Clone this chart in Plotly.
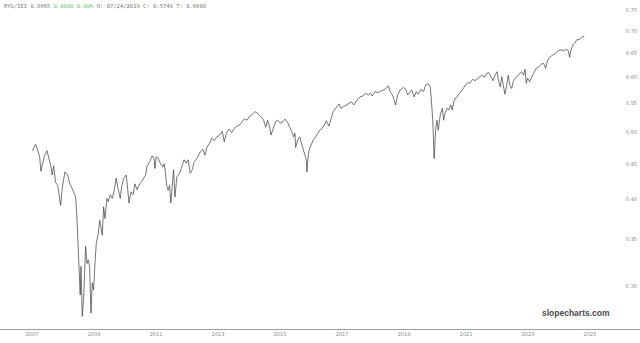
import plotly.graph_objects as go

# ---- data ----
dates = (
    ["2007-" + d for d in ["01-05","02-14","03-16","04-01","04-16","05-01","05-25","06-26","07-19","08-12","08-27","09-13","10-06","10-30","11-14","12-04","12-23"]]
    + ["2008-" + d for d in ["01-24","02-25","03-19","04-12","05-05","05-29","06-10","06-29","07-15","07-22","07-31","08-15","09-01","09-24","10-10","10-25","11-10","11-26","12-11","12-27"]]
    + ["2009-" + d for d in ["01-12","01-27","02-20","03-08","03-23","04-08","04-24","05-10","06-02","06-17","07-11","08-03","08-27","09-19","10-06","11-06","11-22","12-16"]]
    + ["2010-" + d for d in ["01-16","02-01","02-17","03-12","04-05","04-28","05-22","06-23","07-16","08-08","09-01","09-16","10-18","11-17","12-10","12-19"]]
    + ["2011-" + d for d in ["01-04","01-27","02-20","03-23","04-07","04-23","05-09","05-24","06-10","06-25","07-11","07-27","08-12","09-04","10-06","11-05","11-29","12-22"]]
    + ["2012-" + d for d in ["01-15","02-08","03-03","03-26","04-27","06-05","07-07","07-30","08-23","09-24","10-18","11-17","12-19"]]
    + ["2013-" + d for d in ["01-20","02-20","03-15","04-08","05-10","06-10","07-11","08-12","09-13","10-13","11-06","12-08"]]
    + ["2014-" + d for d in ["01-09","02-01","03-12","04-04","05-06","05-30","06-22","07-16","08-08","09-01","09-16","10-10","11-10","12-04"]]
    + ["2015-" + d for d in ["01-04","02-05","02-28","04-01","04-24","05-18","06-10","06-26","07-04","07-28","08-20","09-04","09-28","10-21","11-06","11-14","11-29","12-16"]]
    + ["2016-" + d for d in ["01-09","02-01","02-25","03-19","04-12","05-05","05-29","06-29","07-31","08-23","09-16","10-18","11-26","12-19"]]
    + ["2017-" + d for d in ["01-20","02-20","03-23","04-24","05-18","06-10","07-11","08-03","09-04","10-06","11-05","11-29","12-22"]]
    + ["2018-" + d for d in ["01-24","03-03","04-12","05-21","06-29","07-22","08-23","09-24","10-18","11-17","12-27"]]
    + ["2019-" + d for d in ["01-20","02-13","03-08","04-01","05-01","05-25","06-17","07-19","08-20","09-13","10-13","11-06","11-22","12-07","12-22"]]
    + ["2020-" + d for d in ["01-08","01-24","02-08","03-03","03-26","04-12","04-27","05-21","06-13","07-07","07-22","08-15","09-16","10-18","11-17","12-19"]]
    + ["2021-" + d for d in ["01-20","02-13","03-23","04-16","05-25","07-04","08-04","09-04","09-28","10-21","11-14","12-08"]]
    + ["2022-" + d for d in ["01-01","01-16","02-08","02-25","03-12","04-04","04-28","05-13","05-30","06-22","07-16","08-15","09-16","10-18","11-10","11-26","12-11","12-27"]]
    + ["2023-" + d for d in ["01-20","02-13","03-08","04-08","05-10","06-10","07-04","07-28","08-20","09-20","10-21","11-22","12-22"]]
    + ["2024-" + d for d in ["01-24","02-25","03-26","04-19","05-05","05-21","06-13","07-07","07-30","08-23","09-16","10-10","10-25"]]
)

ratio = (
    [.470,.480,.468,.461,.439,.446,.461,.470,.458,.446,.4335,.447,.423,.419,.408,.392,.415]
    + [.438,.4335,.422,.416,.410,.403,.384,.342,.320,.291,.320,.271,.289,.342,.323,.327,.320,.274,.303,.296]
    + [.323,.3455,.357,.373,.365,.355,.390,.375,.401,.397,.406,.401,.412,.429,.417,.401,.417,.429]
    + [.4335,.412,.395,.410,.406,.421,.413,.421,.424,.429,.4335,.446,.453,.462,.457,.443]
    + [.461,.458,.451,.445,.450,.436,.417,.412,.419,.395,.422,.441,.403,.431,.436,.446,.456,.451]
    + [.456,.436,.441,.453,.458,.468,.472,.463,.475,.482,.490,.486,.492]
    + [.495,.501,.484,.498,.505,.499,.506,.510,.512,.5175,.522,.520]
    + [.527,.529,.535,.533,.529,.525,.520,.508,.520,.508,.495,.506,.5175,.520]
    + [.515,.5175,.522,.516,.509,.501,.492,.498,.475,.487,.492,.484,.474,.461,.456,.438,.463,.474]
    + [.482,.488,.492,.498,.503,.505,.510,.519,.510,.522,.535,.541,.549,.541]
    + [.544,.547,.550,.553,.547,.553,.559,.562,.5636,.569,.5655,.569,.5636]
    + [.572,.570,.574,.576,.583,.572,.5636,.547,.5655,.575,.580]
    + [.576,.5655,.570,.575,.562,.572,.567,.576,.572,.585,.587,.581,.550,.515,.458]
    + [.503,.520,.503,.529,.541,.520,.532,.541,.538,.547,.538,.556,.562,.569,.575,.583]
    + [.589,.588,.596,.593,.598,.604,.600,.608,.609,.601,.593,.604]
    + [.611,.594,.581,.601,.585,.567,.588,.604,.585,.578,.594,.601,.606,.611,.604,.616,.588,.598]
    + [.591,.600,.608,.618,.621,.627,.628,.618,.635,.642,.646,.6495,.655]
    + [.657,.655,.658,.655,.641,.657,.668,.673,.680,.679,.683,.688,.685]
)

x_tick_years = ["2007","2009","2011","2013","2015","2017","2019","2021","2023","2025"]
y_tick_values = [0.30,0.35,0.40,0.45,0.50,0.55,0.60,0.65,0.70,0.75]

header_symbol = "RYG/IEI 0.6665"
header_change = "0.0000 0.00%"
header_rest = "H: 07/24/2019 C: 0.5749 T: 0.6608"
watermark = "slopecharts.com"

# ---- figure ----
fig = go.Figure()
fig.add_trace(go.Scatter(
    x=dates, y=ratio, mode="lines",
    line=dict(color="#3a3a3a", width=0.7),
    hoverinfo="x+y", showlegend=False,
))

fig.update_layout(
    width=640, height=343,
    margin=dict(l=0, r=0, t=0, b=14),
    paper_bgcolor="white", plot_bgcolor="white",
    showlegend=False,
    xaxis=dict(
        type="date",
        range=["2005-12-20", "2026-08-12"],
        tickmode="array",
        tickvals=[y + "-01-01" for y in x_tick_years],
        ticktext=x_tick_years,
        tickfont=dict(size=5, color="#8a8a8a", family="DejaVu Sans"),
        showgrid=False, zeroline=False,
        showline=True, linecolor="#a0a0a0", linewidth=1,
        ticks="",
    ),
    yaxis=dict(
        type="log",
        range=[-0.58519, -0.11051],
        side="right",
        tickmode="array",
        tickvals=y_tick_values,
        ticktext=["%.2f" % v for v in y_tick_values],
        ticklabelposition="inside",
        tickfont=dict(size=5, color="#8a8a8a", family="DejaVu Sans"),
        showgrid=False, zeroline=False, showline=False,
        ticks="",
    ),
)

fig.add_annotation(
    xref="paper", yref="paper", x=0.003, y=1, xanchor="left", yanchor="top",
    yshift=-1, showarrow=False,
    text=("<span style='color:#777777'>" + header_symbol + " </span>"
          "<span style='color:#6cbf6c'>" + header_change + "</span>"
          "<span style='color:#777777'> " + header_rest + "</span>"),
    font=dict(family="DejaVu Sans Mono", size=5.5, color="#777777"),
)

fig.add_annotation(
    xref="paper", yref="paper", x=0.9, y=0.0486, xanchor="center", yanchor="middle",
    showarrow=False, text="<b>" + watermark + "</b>",
    font=dict(family="Liberation Sans", size=8.5, color="#4a4a4a"),
)

fig.write_html("out.html")
